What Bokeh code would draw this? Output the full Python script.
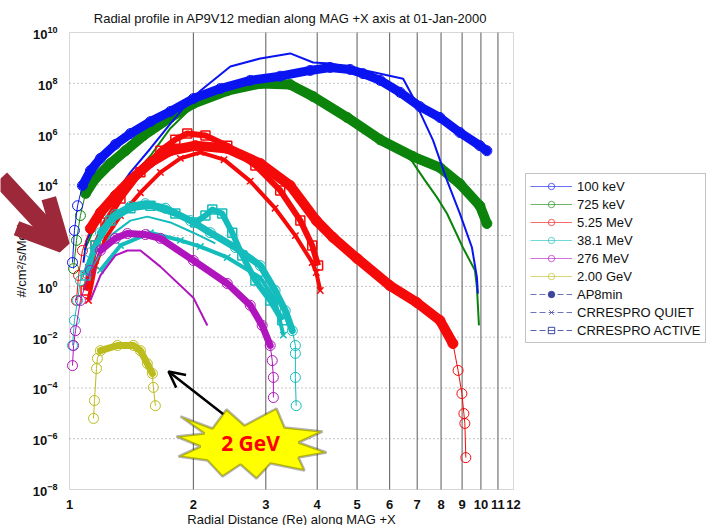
from bokeh.plotting import figure
from bokeh.models import (FixedTicker, LogTickFormatter, NumeralTickFormatter, Legend, LegendItem,
                          Arrow, OpenHead, PolyAnnotation, Label, Range1d, BoxAnnotation)
from bokeh.embed import file_html
from bokeh.resources import INLINE

TITLE = "Radial profile in AP9V12 median along MAG +X axis at 01-Jan-2000"
X_LABEL = "Radial Distance (Re) along MAG +X"
Y_LABEL = "#/cm\u00b2/s/MeV"
X_TICKS = [1, 2, 3, 4, 5, 6, 7, 8, 9, 10, 11, 12]
Y_TICKS = [1e-8, 1e-6, 1e-4, 1e-2, 1e0, 1e2, 1e4, 1e6, 1e8, 1e10]
LEGEND_LABELS = ["100 keV", "725 keV", "5.25 MeV", "38.1 MeV", "276 MeV", "2.00 GeV",
                 "AP8min", "CRRESPRO QUIET", "CRRESPRO ACTIVE"]

# ---- 100 keV ----
ap9_100keV_x = [1.017, 1.028, 1.046, 1.075, 1.124, 1.189, 1.293, 1.406, 1.573, 1.759, 2.0, 2.326, 2.75,
                3.252, 3.846, 4.30, 4.81, 5.17, 5.69, 6.36, 7.11, 7.95, 8.89, 9.94, 10.34]
ap9_100keV_y = [8.7, 1.6e2, 1.5e3, 9.3e3, 3.6e4, 1.1e5, 3.9e5, 1.05e6, 3.1e6, 7.8e6, 2.5e7, 6.2e7, 1.3e8,
                1.9e8, 3.2e8, 4.2e8, 3.5e8, 2.4e8, 1.3e8, 4.4e7, 1.2e7, 4.5e6, 1.15e6, 3.5e5, 2.2e5]
ap8_100keV_x = [1.081, 1.10, 1.137, 1.257, 1.406, 1.573, 1.759, 1.912, 2.08, 2.46, 2.91, 3.44, 3.91, 4.30,
                5.38, 6.47, 6.84, 7.65, 8.27, 8.89, 9.51, 9.78, 9.83]
ap8_100keV_y = [8.7, 65, 190, 2.4e3, 3.1e4, 2.7e5, 2.6e6, 1.3e7, 5.1e7, 4.6e8, 9.5e8, 1.5e9, 6.6e8, 6.0e8,
                2.9e8, 1.5e8, 2.8e7, 5.6e5, 1.5e4, 740, 34, 2.2, 0.52]

# ---- 725 keV ----
ap9_725keV_x = [1.023, 1.04, 1.063, 1.094, 1.156, 1.257, 1.368, 1.512, 1.759, 2.0, 2.418, 2.91, 3.44, 3.91,
                4.73, 5.69, 6.84, 7.95, 8.89, 9.94, 10.34]
ap9_725keV_y = [5.0, 65, 620, 4.6e3, 1.8e4, 6.9e4, 2.2e5, 8.7e5, 4.5e6, 1.6e7, 5.1e7, 9.8e7, 8.9e7, 3.0e7,
                4.5e6, 6.0e5, 1.3e5, 4.8e4, 1.1e4, 1.5e3, 300]
ap8_725keV_x = [1.087, 1.156, 1.33, 1.573, 1.759, 1.967, 2.326, 2.83, 3.44, 4.30, 5.69, 6.73, 7.31, 7.82,
                8.27, 9.04, 9.67, 9.78, 9.89]
ap8_725keV_y = [26, 250, 6.0e3, 1.4e5, 1.7e6, 1.0e7, 6.2e7, 1.7e8, 1.2e8, 1.3e7, 6.5e5, 1.1e5, 1.5e4, 3.2e3,
                740, 34, 4.3, 0.91, 0.029]

# ---- 5.25 MeV ----
ap9_5MeV_x = [1.04, 1.052, 1.075, 1.124, 1.189, 1.293, 1.406, 1.573, 1.759, 2.022, 2.418, 2.91, 3.44, 3.98,
              4.37, 5.0, 6.01, 6.99, 7.95, 8.55, 8.80, 8.99, 9.09, 9.14, 9.19]
ap9_5MeV_y = [0.28, 2.7, 26, 190, 810, 3.8e3, 1.5e4, 7.6e4, 2.2e5, 3.5e5, 2.7e5, 6.9e4, 9.3e3, 390,
              85, 12.6, 1.07, 0.23, 0.046, 5.6e-3, 4.9e-4, 6.0e-5, 9.8e-6, 4.0e-6, 1.8e-7]
crres_act_5MeV_x = [1.094, 1.124, 1.156, 1.223, 1.33, 1.487, 1.663, 1.808, 1.933, 2.14, 2.418, 2.83, 3.252,
                    3.64, 3.89, 4.02]
crres_act_5MeV_y = [0.69, 5.0, 41, 330, 2.9e3, 3.1e4, 2.2e5, 6.0e5, 1.05e6, 8.7e5, 3.5e5, 5.8e4, 6.0e3,
                    390, 41, 6.6]
crres_qui_5MeV_x = [1.112, 1.156, 1.223, 1.33, 1.487, 1.663, 1.86, 2.08, 2.375, 2.75, 3.16, 3.54, 3.89,
                    3.98, 4.07]
crres_qui_5MeV_y = [0.28, 6.6, 78, 620, 4.9e3, 3.1e4, 1.1e5, 1.9e5, 9.8e4, 1.4e4, 1.2e3, 100, 8.7, 3.5, 0.69]

# ---- 38.1 MeV ----
ap9_38MeV_x = [1.017, 1.028, 1.046, 1.063, 1.124, 1.189, 1.293, 1.406, 1.529, 1.71, 1.967, 2.199, 2.53,
               2.91, 3.16, 3.345, 3.48, 3.54, 3.54, 3.54, 3.556]
ap9_38MeV_y = [4.7e-3, 0.046, 0.28, 1.7, 21, 130, 680, 1.4e3, 1.8e3, 1.2e3, 390, 130, 34,
               6.6, 0.69, 0.11, 0.018, 4.7e-3, 2.3e-3, 2.6e-4, 2.0e-5]
ap8_38MeV_x = [1.124, 1.257, 1.406, 1.546, 1.759, 2.0, 2.262]
ap8_38MeV_y = [4.3, 100, 390, 560, 330, 130, 49]
crres_act_38MeV_x = [1.094, 1.156, 1.257, 1.406, 1.573, 1.808, 2.022, 2.14, 2.224, 2.35, 2.486, 2.63, 2.83,
                     3.075, 3.29]
crres_act_38MeV_y = [2.7, 41, 390, 1.2e3, 1.5e3, 740, 330, 620, 1.07e3, 740, 130, 16.6, 1.7, 0.28, 0.046]
crres_qui_38MeV_x = [1.189, 1.33, 1.573, 1.86, 2.08, 2.418, 2.91, 3.16, 3.31]
crres_qui_38MeV_y = [4.3, 41, 130, 65, 37, 13.8, 2.2, 0.28, 0.012]

# ---- 276 MeV ----
ap9_276MeV_x = [1.017, 1.023, 1.034, 1.063, 1.124, 1.189, 1.293, 1.383, 1.529, 1.663, 2.0, 2.418, 2.75,
                2.94, 3.075, 3.11, 3.13, 3.13]
ap9_276MeV_y = [7.6e-4, 4.7e-3, 0.018, 0.28, 4.3, 26, 78, 120, 110, 78, 10.5, 1.3, 0.18,
                0.029, 4.7e-3, 1.2e-3, 2.6e-4, 4.2e-5]
ap8_276MeV_x = [1.124, 1.189, 1.293, 1.383, 1.487, 1.663, 2.0, 2.163]
ap8_276MeV_y = [0.28, 2.7, 16.6, 26, 26, 6.0, 0.36, 0.029]

# ---- 2.00 GeV ----
ap9_2GeV_x = [1.144, 1.15, 1.163, 1.169, 1.189, 1.308, 1.43, 1.487, 1.546, 1.59, 1.599, 1.617]
ap9_2GeV_y = [6.3e-6, 3.2e-5, 5.8e-4, 1.45e-3, 2.95e-3, 4.7e-3, 4.7e-3, 2.95e-3, 9.1e-4, 3.7e-4, 1.05e-4, 2.0e-5]

BLUE, GREEN, RED, CYAN, MAGENTA, OLIVE = "#0a14f0", "#0c840c", "#f50a0a", "#14bcbc", "#b014bc", "#bcbc1e"
FONT = "Liberation Sans"
NAN = float("nan")

# Canvas geometry: the whole canvas is the plot frame; the axes are pinned to the data box.
W, H = 709, 525
BOX_L, BOX_R, BOX_T, BOX_B = 69, 513, 32, 489
x_dec = (BOX_R - BOX_L) / 1.0791812   # pixels per decade along x (1 .. 12)
y_dec = (BOX_B - BOX_T) / 18.0        # pixels per decade along y (1e-8 .. 1e10)
x_rng = Range1d(10 ** (-BOX_L / x_dec), 10 ** ((W - BOX_L) / x_dec))
y_rng = Range1d(10 ** (-8 - (H - BOX_B) / y_dec), 10 ** (10 + BOX_T / y_dec))

p = figure(width=W, height=H, x_axis_type="log", y_axis_type="log", x_range=x_rng, y_range=y_rng,
           output_backend="svg", toolbar_location=None, title=None,
           min_border=0, min_border_left=0, min_border_right=0, min_border_top=0, min_border_bottom=0)
p.background_fill_color = "white"
p.border_fill_color = "white"
p.outline_line_color = None
p.grid.visible = False

p.xaxis.ticker = FixedTicker(ticks=X_TICKS, minor_ticks=[])
p.xaxis.formatter = NumeralTickFormatter(format="0")
p.yaxis.ticker = FixedTicker(ticks=Y_TICKS, minor_ticks=[])
p.yaxis.formatter = LogTickFormatter()
p.xaxis.fixed_location = Y_TICKS[0]
p.yaxis.fixed_location = X_TICKS[0]
p.xaxis.bounds = (X_TICKS[0], X_TICKS[-1])
p.yaxis.bounds = (Y_TICKS[0], Y_TICKS[-1])
for ax in (p.xaxis[0], p.yaxis[0]):
    ax.axis_line_color = None
    ax.major_tick_line_color = None
    ax.minor_tick_line_color = None
    ax.major_label_text_font = FONT
    ax.major_label_text_font_size = "13px"
    ax.major_label_text_font_style = "bold"
    ax.major_label_text_color = "#111111"
    ax.axis_label_text_font = FONT
    ax.axis_label_text_font_size = "13px"
    ax.axis_label_text_font_style = "normal"
    ax.axis_label_text_color = "#111111"
p.xaxis.axis_label = X_LABEL
p.yaxis.axis_label = Y_LABEL
p.xaxis.major_label_standoff = 4
p.xaxis.axis_label_standoff = 0
p.yaxis.major_label_standoff = 6
p.yaxis.axis_label_standoff = 1

# grid lines inside the data box, from the tick lists
gx = X_TICKS[1:-1]
p.segment(x0=gx, y0=[Y_TICKS[0]] * len(gx), x1=gx, y1=[Y_TICKS[-1]] * len(gx),
          line_color="#5a5a5a", line_width=1, level="underlay")
gy = Y_TICKS[1:-1]
p.segment(x0=[X_TICKS[0]] * len(gy), y0=gy, x1=[X_TICKS[-1]] * len(gy), y1=gy,
          line_color="#8a8a8a", line_width=1, line_dash="1 3", level="underlay")
p.add_layout(BoxAnnotation(left=X_TICKS[0], right=X_TICKS[-1], bottom=Y_TICKS[0], top=Y_TICKS[-1],
                           fill_alpha=0, line_color="#7a7a7a", line_width=1, level="underlay"))


def ap9(x, y, color, a, b, width=8):
    p.line(x, y, line_color=color, line_width=1)
    p.line(x[a:b], y[a:b], line_color=color, line_width=width, line_join="round", line_cap="round")
    p.scatter(x, y, marker="circle", size=10, fill_color=None, line_color=color, line_width=1)


def ap8(x, y, color):
    p.line(x, y, line_color=color, line_width=2)


def crres_active(x, y, color):
    p.line(x, y, line_color=color, line_width=6, line_join="round")
    p.scatter(x, y, marker="square", size=9, fill_color=None, line_color=color, line_width=1.5)


def crres_quiet(x, y, color):
    p.line(x, y, line_color=color, line_width=4, line_join="round")
    p.scatter(x, y, marker="x", size=9, line_color=color, line_width=1.5)


ap9(ap9_725keV_x, ap9_725keV_y, GREEN, 3, 21, 10)
ap8(ap8_725keV_x, ap8_725keV_y, GREEN)
ap9(ap9_100keV_x, ap9_100keV_y, BLUE, 3, 25, 9)
ap8(ap8_100keV_x, ap8_100keV_y, BLUE)
crres_quiet(crres_qui_5MeV_x, crres_qui_5MeV_y, RED)
ap9(ap9_5MeV_x, ap9_5MeV_y, RED, 3, 20, 10)
crres_active(crres_act_5MeV_x, crres_act_5MeV_y, RED)
crres_active(crres_act_38MeV_x, crres_act_38MeV_y, CYAN)
crres_quiet(crres_qui_38MeV_x, crres_qui_38MeV_y, CYAN)
ap8(ap8_38MeV_x, ap8_38MeV_y, CYAN)
ap9(ap9_38MeV_x, ap9_38MeV_y, CYAN, 5, 17, 7)
ap9(ap9_276MeV_x, ap9_276MeV_y, MAGENTA, 5, 15, 7)
ap8(ap8_276MeV_x, ap8_276MeV_y, MAGENTA)
ap9(ap9_2GeV_x, ap9_2GeV_y, OLIVE, 4, 10, 7)

# ---- legend (proxy glyphs with a single NaN row so only the legend swatch is drawn) ----
leg_colors = [BLUE, GREEN, RED, CYAN, MAGENTA, OLIVE]
items = []
for lab, c in zip(LEGEND_LABELS[:6], leg_colors):
    r1 = p.line([NAN], [NAN], line_color=c, line_width=1, line_alpha=0.6)
    r2 = p.scatter([NAN], [NAN], marker="circle", size=11, fill_color=None, line_color=c, line_alpha=0.65)
    items.append(LegendItem(label=lab, renderers=[r1, r2]))
dash_col = "#3c46a0"
r1 = p.line([NAN], [NAN], line_color=dash_col, line_width=1, line_dash="6 3", line_alpha=0.75)
r2 = p.scatter([NAN], [NAN], marker="circle", size=3, fill_color=dash_col, line_color=dash_col)
items.append(LegendItem(label=LEGEND_LABELS[6], renderers=[r1, r2]))
r1 = p.line([NAN], [NAN], line_color=dash_col, line_width=1, line_dash="6 3", line_alpha=0.75)
r2 = p.scatter([NAN], [NAN], marker="x", size=9, line_color=dash_col, line_alpha=0.75)
items.append(LegendItem(label=LEGEND_LABELS[7], renderers=[r1, r2]))
r1 = p.line([NAN], [NAN], line_color=dash_col, line_width=1, line_dash="6 3", line_alpha=0.85)
r2 = p.scatter([NAN], [NAN], marker="square", size=10, fill_color=None, line_color=dash_col)
items.append(LegendItem(label=LEGEND_LABELS[8], renderers=[r1, r2]))

legend = Legend(items=items, location=(525, H - 343), orientation="vertical",
                label_text_font=FONT, label_text_font_size="13px", label_text_color="#111111",
                glyph_width=42, glyph_height=16, label_height=16, spacing=2, padding=4, margin=0,
                label_standoff=5, border_line_color="#888888", border_line_width=1,
                background_fill_color="white", background_fill_alpha=1)
p.add_layout(legend, "center")

# ---- title as a text annotation (canvas pixels, origin bottom-left) ----
p.add_layout(Label(x=290, y=H - 18, x_units="screen", y_units="screen", text=TITLE,
                   text_align="center", text_baseline="middle", text_font=FONT, text_font_size="13px",
                   text_color="#111111"))

# ---- annotations ----
ARROW_RED = "#9c283a"
p.add_layout(Arrow(x_start=0, y_start=H - 178, x_end=62, y_end=H - 245, start_units="screen",
                   end_units="screen", line_color=ARROW_RED, line_width=18,
                   end=OpenHead(size=44, line_color=ARROW_RED, line_width=15)))

p.add_layout(Arrow(x_start=236, y_start=H - 424, x_end=168, y_end=H - 371, start_units="screen",
                   end_units="screen", line_color="black", line_width=2.5,
                   end=OpenHead(size=16, line_color="black", line_width=2.5)))

star_px = [(180, 416), (212, 428), (226, 409), (244, 425), (276, 408), (284, 427), (322, 431), (298, 442),
           (326, 452), (298, 457), (304, 470), (270, 463), (256, 478), (240, 464), (222, 476), (207, 460),
           (178, 456), (200, 446), (176, 436), (204, 433)]
p.add_layout(PolyAnnotation(xs=[a for a, b in star_px], ys=[H - b for a, b in star_px],
                            xs_units="screen", ys_units="screen",
                            fill_color="#ffff00", fill_alpha=1, line_color="black", line_width=2.5))
p.add_layout(Label(x=250, y=H - 442, x_units="screen", y_units="screen", text="2 GeV",
                   text_align="center", text_baseline="middle", text_color="#ff0000",
                   text_font="Open Sans", text_font_style="bold", text_font_size="21px"))

open("out.html", "w").write(file_html(p, INLINE))
